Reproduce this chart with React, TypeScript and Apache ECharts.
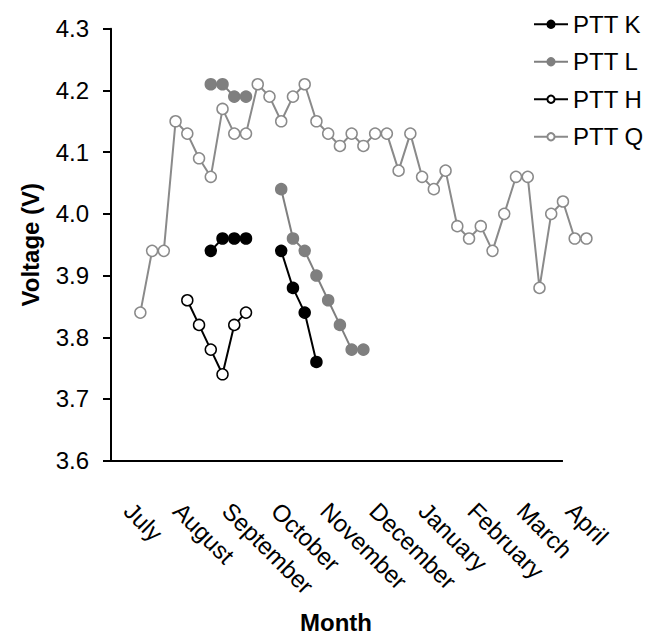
import React, { useEffect, useRef } from "react";
import * as echarts from "echarts";

// Month labels and where each label sits on the sampling axis
const months = ["July", "August", "September", "October", "November", "December", "January", "February", "March", "April"];
const monthTicks = [-1.02, 3.16, 7.34, 11.52, 15.71, 19.89, 24.07, 28.25, 32.44, 36.62];
const yTicks = [3.6, 3.7, 3.8, 3.9, 4.0, 4.1, 4.2, 4.3];
// Sampling-axis range, and where the drawn x-axis line ends
const xRange = [-2.5, 43.33];
const xAxisLineEnd = 36;

// Sampling index for each reading, and the readings
const qWeeks = [0,1,2,3,4,5,6,7,8,9,10,11,12,13,14,15,16,17,18,19,20,21,22,23,24,25,26,27,28,29,30,31,32,33,34,35,36,37,38];
const qValues = [3.84,3.94,3.94,4.15,4.13,4.09,4.06,4.17,4.13,4.13,4.21,4.19,4.15,4.19,4.21,4.15,4.13,4.11,4.13,4.11,4.13,4.13,4.07,4.13,4.06,4.04,4.07,3.98,3.96,3.98,3.94,4.00,4.06,4.06,3.88,4.00,4.02,3.96,3.96];

const kWeeks = [6, 7, 8, 9, 12, 13, 14, 15];
const kValues = [3.94, 3.96, 3.96, 3.96, 3.94, 3.88, 3.84, 3.76];

const lWeeks = [6, 7, 8, 9, 12, 13, 14, 15, 16, 17, 18, 19];
const lValues = [4.21, 4.21, 4.19, 4.19, 4.04, 3.96, 3.94, 3.90, 3.86, 3.82, 3.78, 3.78];

const hWeeks = [4, 5, 6, 7, 8, 9];
const hValues = [3.86, 3.82, 3.78, 3.74, 3.82, 3.84];

function toData(weeks: number[], values: number[]) {
  const out: any[] = [];
  for (let i = 0; i < weeks.length; i++) {
    if (i > 0 && weeks[i] - weeks[i - 1] > 1) out.push([weeks[i - 1] + 1, null]);
    out.push([weeks[i], values[i]]);
  }
  return out;
}

const FONT = "'Liberation Sans', Arial, sans-serif";

export default function App() {
  const ref = useRef<HTMLDivElement>(null);
  useEffect(() => {
    if (!ref.current) return;
    const chart = echarts.init(ref.current, undefined, { renderer: "svg" });
    const mk = (name: string, weeks: number[], values: number[], line: string, fill: string, border: string, extra: any = {}) => ({
      name,
      type: "line",
      xAxisIndex: 0,
      yAxisIndex: 0,
      data: toData(weeks, values),
      clip: false,
      connectNulls: false,
      symbol: "circle",
      symbolSize: 11,
      showAllSymbol: true,
      lineStyle: { color: line, width: 2 },
      itemStyle: { color: fill, borderColor: border, borderWidth: 1.5 },
      emphasis: { disabled: true },
      ...extra,
    });
    chart.setOption({
      animation: false,
      backgroundColor: "#ffffff",
      textStyle: { fontFamily: FONT },
      legend: {
        orient: "vertical",
        left: 528,
        top: 7,
        itemWidth: 34,
        itemHeight: 9,
        itemGap: 13,
        textStyle: { fontSize: 24, color: "#000", fontFamily: FONT, lineHeight: 24.5 },
        data: ["PTT K", "PTT L", "PTT H", "PTT Q"],
      },
      grid: { left: 111, right: 8, top: 28.7, bottom: 175.3, outerBoundsMode: "none", containLabel: false },
      xAxis: [
        {
          type: "value",
          position: "bottom",
          min: xRange[0],
          max: xRange[1],
          axisLine: { show: false, onZero: false },
          axisTick: { show: false },
          axisLabel: { show: false },
          splitLine: { show: false },
          name: "Month",
          nameLocation: "middle",
          nameGap: 150,
          nameTextStyle: { fontSize: 24, fontWeight: "bold", color: "#000", fontFamily: FONT, padding: [0, 88, 0, 0] },
        },
        {
          type: "value",
          position: "bottom",
          min: xRange[0],
          max: xRange[1],
          axisLine: { show: false, onZero: false },
          axisTick: { show: false },
          splitLine: { show: false },
          axisLabel: {
            customValues: monthTicks,
            rotate: -45,
            fontSize: 24,
            color: "#000",
            margin: 46,
            fontFamily: FONT,
            showMinLabel: true,
            showMaxLabel: true,
            formatter: (v: number) => {
              let best = 0;
              for (let i = 1; i < monthTicks.length; i++) {
                if (Math.abs(monthTicks[i] - v) < Math.abs(monthTicks[best] - v)) best = i;
              }
              return months[best];
            },
          },
        },
      ],
      yAxis: {
        type: "value",
        min: yTicks[0],
        max: yTicks[yTicks.length - 1],
        interval: 0.1,
        axisLine: { show: true, onZero: false, lineStyle: { color: "#000", width: 2 } },
        axisTick: { show: true, inside: false, length: 8, lineStyle: { color: "#000", width: 2 } },
        axisLabel: { fontSize: 24, color: "#000", margin: 22, formatter: (v: number) => v.toFixed(1), fontFamily: FONT },
        splitLine: { show: false },
        name: "Voltage (V)",
        nameLocation: "middle",
        nameGap: 69,
        nameTextStyle: { fontSize: 24, fontWeight: "bold", color: "#000", fontFamily: FONT },
      },
      series: [
        mk("PTT Q", qWeeks, qValues, "#8a8a8a", "#ffffff", "#8a8a8a", {
          markLine: {
            silent: true,
            symbol: "none",
            label: { show: false },
            lineStyle: { color: "#000", width: 2, type: "solid" },
            emphasis: { disabled: true },
            data: [[{ coord: [xRange[0], yTicks[0]] }, { coord: [xAxisLineEnd, yTicks[0]] }]],
          },
        }),
        mk("PTT L", lWeeks, lValues, "#7f7f7f", "#7f7f7f", "#7f7f7f"),
        mk("PTT H", hWeeks, hValues, "#000000", "#ffffff", "#000000"),
        mk("PTT K", kWeeks, kValues, "#000000", "#000000", "#000000"),
      ],
    });
    return () => chart.dispose();
  }, []);
  return <div ref={ref} style={{ position: "fixed", left: 0, top: 0, width: 657, height: 636 }} />;
}
